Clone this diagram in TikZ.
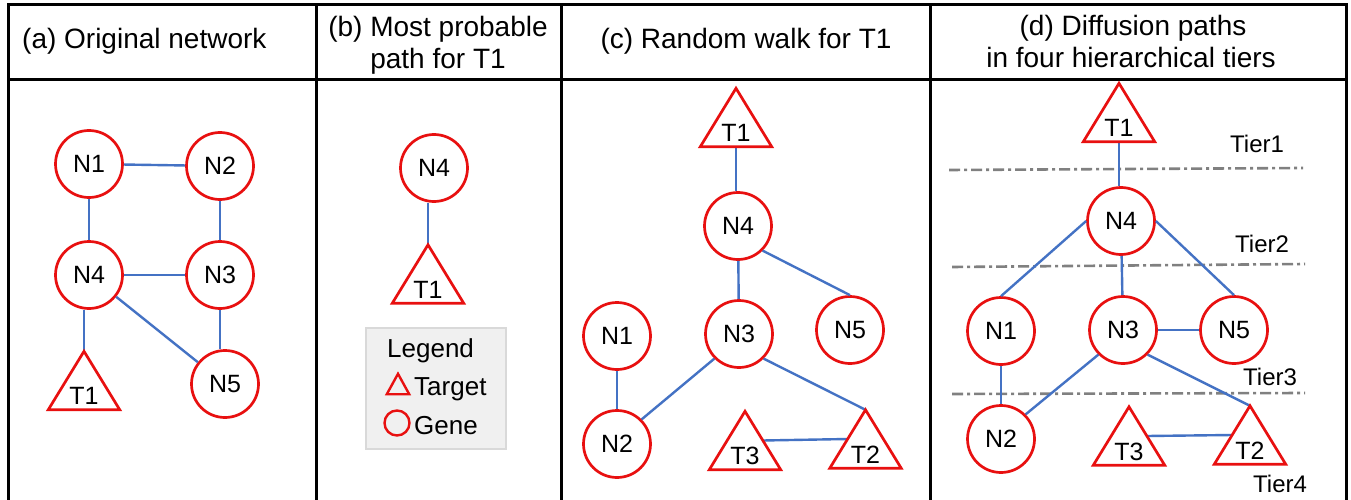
\documentclass[tikz,border=0pt]{standalone}
\usepackage{fontspec}
\setmainfont{Liberation Sans}
\usetikzlibrary{calc}

\definecolor{genered}{RGB}{232,16,16}
\definecolor{edgeblue}{RGB}{68,114,196}
\definecolor{tiergray}{RGB}{128,128,128}
\definecolor{legfill}{RGB}{240,240,240}
\definecolor{legline}{RGB}{217,217,217}

\newcommand\ttlfont{\fontsize{28}{33}\selectfont}
\newcommand\ndfont{\fontsize{25}{30}\selectfont}
\newcommand\lgfont{\fontsize{26}{31}\selectfont}
\newcommand\trfont{\fontsize{24}{29}\selectfont}

\begin{document}
\begin{tikzpicture}[x=1pt,y=-1pt,
  gene/.style={circle, draw=genered, fill=white, line width=2.7pt,
    minimum size=67pt, inner sep=0pt, font=\ndfont},
  target/.style={rectangle, minimum width=71pt, minimum height=58pt,
    inner sep=0pt, text height=48pt, text depth=0pt, font=\ndfont},
  tristroke/.style={draw=genered, line width=2.7pt, line join=miter},
  link/.style={draw=edgeblue, line width=2.4pt},
  frame/.style={draw=black, line width=3pt},
  tierline/.style={draw=tiergray, line width=2.6pt,
    dash pattern=on 11pt off 4pt on 3pt off 4pt},
  ttl/.style={font=\ttlfont, inner sep=0pt},
  lgtext/.style={font=\lgfont, inner sep=0pt, anchor=base west},
  tiertext/.style={font=\trfont, inner sep=0pt, anchor=base west}]

% page
\fill[white] (0,0) rectangle (1351,500);
\useasboundingbox (0,0) rectangle (1351,500);

% table frame
\draw[frame] (8,500) -- (8,4.5) -- (1346,4.5) -- (1346,500);
\draw[frame] (8,80) -- (1346,80);
\draw[frame] (316,4.5) -- (316,500);
\draw[frame] (561,4.5) -- (561,500);
\draw[frame] (930,4.5) -- (930,500);

% column headings
\node[ttl, anchor=base west] (ttla) at (22,49) {(a) Original network};
\node[ttl, anchor=base] (ttlb1) at (438,37) {(b) Most probable};
\node[ttl, anchor=base] (ttlb2) at (438,69) {path for T1};
\node[ttl, anchor=base] (ttlc) at (746,49) {(c) Random walk for T1};
\node[ttl, anchor=base] (ttld1) at (1133,36) {(d) Diffusion paths};
\node[ttl, anchor=base] (ttld2) at (1131,68) {in four hierarchical tiers};

% (a) original network
\node[gene] (a1) at (89,164) {N1};
\node[gene] (a2) at (220,166) {N2};
\node[gene] (a4) at (89,275) {N4};
\node[gene] (a3) at (220,275) {N3};
\node[gene] (a5) at (225,384) {N5};
\node[target] (at) at (84,380.5) {T1};
\draw[link] (a1) -- (a2);
\draw[link] (a1) -- (a4);
\draw[link] (a2) -- (a3);
\draw[link] (a4) -- (a3);
\draw[link] (a4.south -| at.north) -- (at.north);
\draw[link] (a3.south) -- (a3.south |- a5.north);
\draw[link] (a4) -- (a5);

% (b) most probable path
\node[gene] (b4) at (434,168) {N4};
\node[target] (bt) at (428,274) {T1};
\draw[link] (b4.south -| bt.north) -- (bt.north);

% legend
\node[draw=legline, fill=legfill, line width=2pt, minimum width=140pt,
  minimum height=121pt, inner sep=0pt] (legend) at (436,388.5) {};
\node[lgtext] (legtitle) at (387,357) {Legend};
\node[minimum width=22pt, minimum height=20pt, inner sep=0pt] (legtri) at (398,384) {};
\draw[tristroke, line width=2.4pt] (legtri.north) -- (legtri.south west) -- (legtri.south east) -- cycle;
\node[lgtext] (legtarget) at (414,395) {Target};
\node[circle, draw=genered, line width=2.4pt, minimum size=25pt, inner sep=0pt] (leggene) at (397,423) {};
\node[lgtext] (leggenetxt) at (414,434) {Gene};

% (c) random walk
\node[target] (ct1) at (736,117.5) {T1};
\node[gene] (c4) at (738,226) {N4};
\node[gene] (c3) at (739,334) {N3};
\node[gene] (c5) at (850,330) {N5};
\node[gene] (c1) at (617,336) {N1};
\node[gene] (c2) at (617,444) {N2};
\node[target] (ct3) at (745,440.5) {T3};
\node[target] (ct2) at (865.5,439) {T2};
\draw[link] (ct1.south) -- (ct1.south |- c4.north);
\draw[link] (c4) -- (c3);
\draw[link] (c4.south east) -- (c5.north);
\draw[link] (c3.south west) -- (c2.north east);
\draw[link] (c3.south east) -- (ct2.north);
\draw[link] (c1) -- (c2);
\draw[link] ($(ct3.north)!0.5!(ct3.south east)$) -- ($(ct2.north)!0.5!(ct2.south west)$);

% (d) diffusion tiers
\draw[tierline] (949,170) -- (1303,168);
\draw[tierline] (952,267) -- (1305,264);
\draw[tierline] (952,394) -- (1305,393);
\node[tiertext] (tier1) at (1230,152) {Tier1};
\node[tiertext] (tier2) at (1235,252) {Tier2};
\node[tiertext] (tier3) at (1243,385) {Tier3};
\node[tiertext] (tier4) at (1253,492) {Tier4};

\node[target] (dt1) at (1119,112.5) {T1};
\node[gene] (d4) at (1121,221) {N4};
\node[gene] (d1) at (1001,331) {N1};
\node[gene] (d3) at (1123,330) {N3};
\node[gene] (d5) at (1234,330) {N5};
\node[gene] (d2) at (1001,439) {N2};
\node[target] (dt3) at (1129,436) {T3};
\node[target] (dt2) at (1250,435) {T2};
\draw[link] (dt1.south) -- (dt1.south |- d4.north);
\draw[link] (d4.west) -- (d1.north);
\draw[link] (d4) -- (d3);
\draw[link] (d4.east) -- (d5.north);
\draw[link] (d3) -- (d5);
\draw[link] (d1) -- (d2);
\draw[link] (d3.south west) -- (d2.north east);
\draw[link] (d3.south east) -- (dt2.north);
\draw[link] ($(dt3.north)!0.5!(dt3.south east)$) -- ($(dt2.north)!0.5!(dt2.south west)$);

% target triangles
\foreach \t in {at,bt,ct1,ct2,ct3,dt1,dt2,dt3}
  \draw[tristroke] (\t.north) -- (\t.south west) -- (\t.south east) -- cycle;

\end{tikzpicture}
\end{document}
